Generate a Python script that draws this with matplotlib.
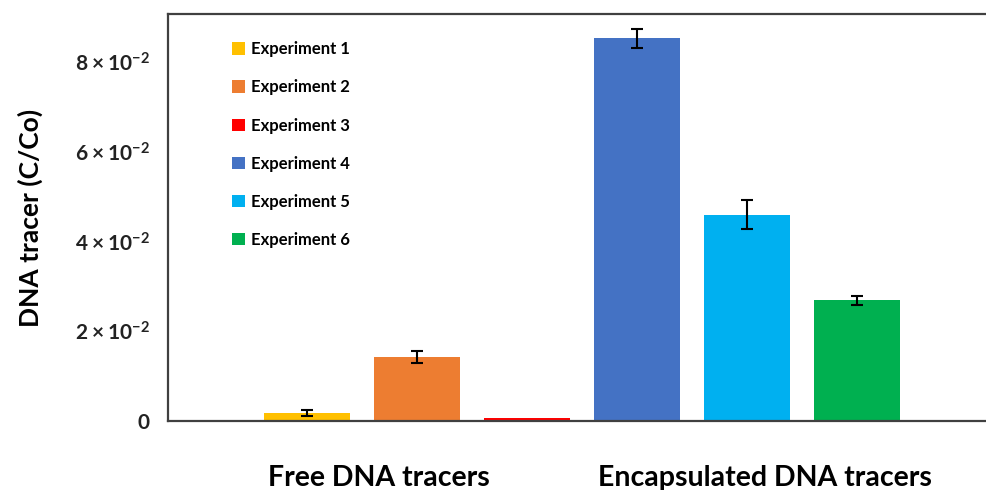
import matplotlib
matplotlib.use("Agg")
import matplotlib.pyplot as plt
from matplotlib.patches import Patch

plt.rcParams['font.family'] = ['Lato', 'DejaVu Sans']
plt.rcParams['mathtext.fontset'] = 'custom'
plt.rcParams['mathtext.rm'] = 'Lato:bold'
plt.rcParams['mathtext.bf'] = 'Lato:bold'
plt.rcParams['mathtext.default'] = 'bf'

labels = ['Experiment 1', 'Experiment 2', 'Experiment 3',
          'Experiment 4', 'Experiment 5', 'Experiment 6']
values = [0.0018, 0.0143, 0.0006, 0.0853, 0.0460, 0.0269]
errors = [0.0007, 0.0014, 0.0, 0.0021, 0.0033, 0.0010]
colors = ['#ffc000', '#ed7d31', '#ff0000', '#4472c4', '#00b0f0', '#00b050']
groups = ['Free DNA tracers', 'Encapsulated DNA tracers']
yticks = [0, 0.02, 0.04, 0.06, 0.08]
ytick_labels = ['0', r'$2\times10^{-2}$', r'$4\times10^{-2}$',
                r'$6\times10^{-2}$', r'$8\times10^{-2}$']

fig = plt.figure(figsize=(9.87, 4.9), dpi=100)
ax = fig.add_axes([168 / 987, 1 - 421 / 490, 1 - 168 / 987, 407 / 490])

x = list(range(len(values)))
ax.bar(x, values, width=0.79, color=colors)
# only bars with a measured spread get an error bar
ex = [i for i in x if errors[i] > 0]
ax.errorbar(ex, [values[i] for i in ex], yerr=[errors[i] for i in ex],
            fmt='none', ecolor='black', elinewidth=1.5, capsize=4.5, capthick=1.5)

ax.set_xlim(-1.264, 6.182)
ax.set_ylim(0, 0.0907)
ax.set_xticks([])
ax.set_yticks(yticks)
ax.set_yticklabels(ytick_labels, fontsize=15, fontweight='bold')
ax.tick_params(axis='y', length=0, pad=13)
for lbl in ax.get_yticklabels():
    lbl.set_color('#222222')

for side in ['top', 'bottom', 'left']:
    ax.spines[side].set_color('#404040')
    ax.spines[side].set_linewidth(1.6)
ax.spines['right'].set_visible(False)

ax.set_ylabel('DNA tracer (C/Co)', fontsize=19, fontweight='bold', labelpad=23)

handles = [Patch(facecolor=c, edgecolor='none') for c in colors]
leg = ax.legend(handles, labels, loc='upper left', bbox_to_anchor=(0.06, 0.97),
                frameon=False, handlelength=0.75, handleheight=0.75,
                handletextpad=0.4, labelspacing=1.33,
                prop={'size': 12, 'weight': 'bold'})

fig.text(379 / 987, 1 - 478 / 490, groups[0], ha='center', va='center',
         fontsize=20.5, fontweight='bold')
fig.text(765 / 987, 1 - 478 / 490, groups[1], ha='center', va='center',
         fontsize=20.5, fontweight='bold')

fig.savefig('out.png', dpi=100)
